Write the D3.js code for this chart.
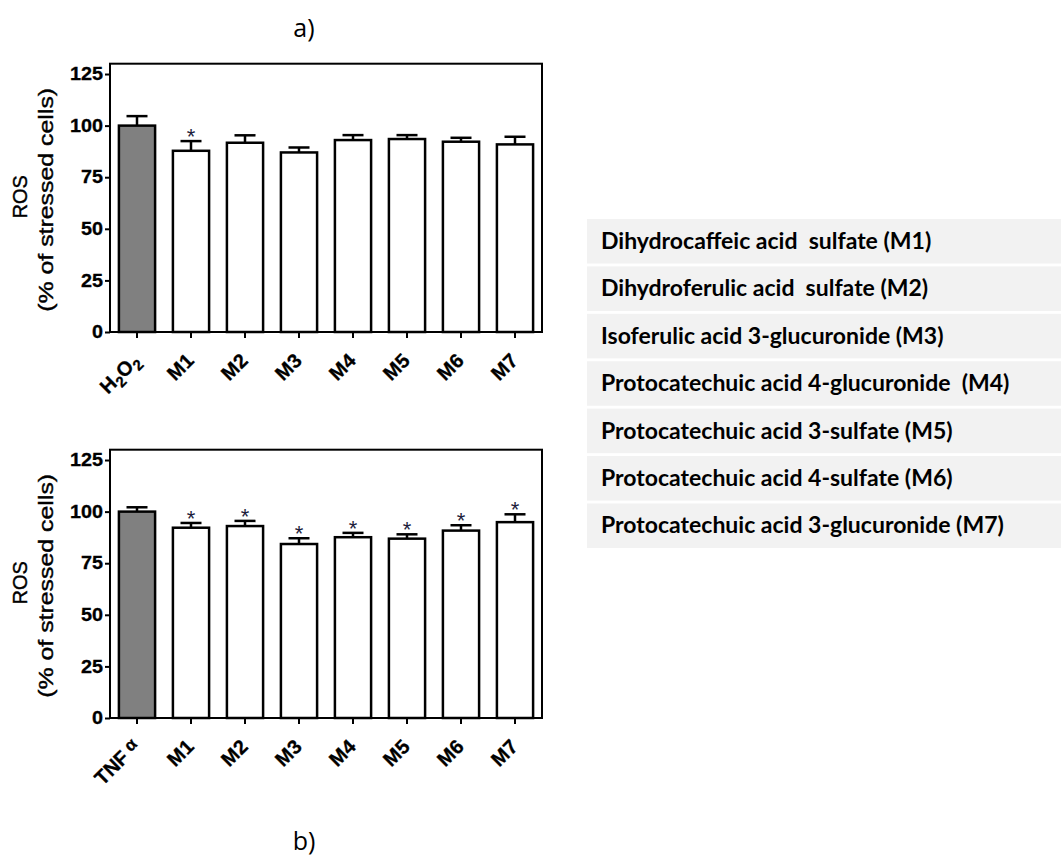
<!DOCTYPE html>
<html>
<head>
<meta charset="utf-8">
<script src="https://cdn.jsdelivr.net/npm/d3@7"></script>
<style>
body { margin: 0; background: #fff; }
svg { display: block; }
</style>
</head>
<body>
<div id="chart"></div>
<script>
// groups shared by both panels
var groups = ["M1", "M2", "M3", "M4", "M5", "M6", "M7"];

// panel a) H2O2 stress
var ros_h2o2 = [100, 87.8, 91.7, 87.0, 93.0, 93.5, 92.2, 90.9];
var sem_h2o2 = [4.6, 4.7, 3.6, 2.4, 2.4, 1.9, 1.9, 3.7];
var sig_h2o2 = [false, true, false, false, false, false, false, false];

// panel b) TNF alpha stress
var ros_tnf = [100, 92.2, 93.0, 84.3, 87.6, 86.9, 90.8, 94.9];
var sem_tnf = [2.1, 2.3, 2.5, 2.8, 2.1, 2.1, 2.6, 3.8];
var sig_tnf = [false, true, true, true, true, true, true, true];

var yTicks = [0, 25, 50, 75, 100, 125];

var metabolites = [
	"Dihydrocaffeic acid  sulfate (M1)",
	"Dihydroferulic acid  sulfate (M2)",
	"Isoferulic acid 3-glucuronide (M3)",
	"Protocatechuic acid 4-glucuronide  (M4)",
	"Protocatechuic acid 3-sulfate (M5)",
	"Protocatechuic acid 4-sulfate (M6)",
	"Protocatechuic acid 3-glucuronide (M7)"
];

var arial = "'Liberation Sans', Arial, sans-serif";

var svg = d3.select("#chart")
	.append("svg")
	.attr("width", 1061)
	.attr("height", 858);

// pieces of an x label: subscripts for H2O2, greek alpha for TNF
function labelParts(cat) {
	if (cat == "H2O2") {
		return [{t: "H"}, {t: "2", sub: true}, {t: "O"}, {t: "2", sub: true}];
	}
	if (cat == "TNF") {
		return [{t: "TNF"}, {t: " α", greek: true}];
	}
	return [{t: cat}];
}

function drawPanel(id, control, values, errors, sig, yTop, yBottom) {
	var cats = [control].concat(groups);
	var data = cats.map(function(c, i) {
		return {cat: c, value: values[i], err: errors[i], sig: sig[i], ctrl: i == 0};
	});

	var x = d3.scaleBand()
		.domain(cats)
		.range([110, 542])
		.paddingInner(0.33)
		.paddingOuter(0.165);
	var y = d3.scaleLinear()
		.domain([0, 130])
		.range([yBottom, yTop]);

	var g = svg.append("g").attr("id", id);

	// y axis
	var yAxis = g.append("g")
		.attr("transform", "translate(110,0)")
		.call(d3.axisLeft(y).tickValues(yTicks).tickSize(5).tickPadding(2));
	yAxis.select(".domain").remove();
	yAxis.selectAll("line").attr("stroke", "#000").attr("stroke-width", 2);
	yAxis.selectAll("text")
		.attr("font-family", arial)
		.attr("font-weight", "bold")
		.attr("font-size", 18)
		.attr("fill", "#000")
		.attr("stroke", "#000")
		.attr("stroke-width", 0.3)
		.attr("textLength", function(d) { return String(d).length * 11; })
		.attr("lengthAdjust", "spacingAndGlyphs");

	// x axis
	var xAxis = g.append("g")
		.attr("transform", "translate(0," + yBottom + ")")
		.call(d3.axisBottom(x).tickSize(6).tickSizeOuter(0));
	xAxis.select(".domain").remove();
	xAxis.selectAll("line").attr("stroke", "#000").attr("stroke-width", 2);
	xAxis.selectAll("text").remove();
	xAxis.selectAll(".tick").each(function(cat) {
		var t = d3.select(this).append("text")
			.attr("transform", "translate(4,30) rotate(-45)")
			.attr("text-anchor", "end")
			.attr("font-family", arial)
			.attr("font-weight", "bold")
			.attr("font-size", 20)
			.attr("fill", "#000")
			.attr("stroke", "#000")
			.attr("stroke-width", 0.3);
		labelParts(cat).forEach(function(p) {
			var s = t.append("tspan").text(p.t);
			if (p.sub) {
				s.attr("font-size", 15).attr("dy", 5);
			} else if (p.greek) {
				s.attr("font-size", 17).attr("dy", -4);
			} else {
				s.attr("dy", t.selectAll("tspan").size() > 1 ? -5 : 0);
			}
		});
	});

	// error bars (upper only)
	var eb = g.selectAll(".err").data(data).join("g").attr("class", "err");
	eb.append("line")
		.attr("x1", function(d) { return x(d.cat) + x.bandwidth() / 2; })
		.attr("x2", function(d) { return x(d.cat) + x.bandwidth() / 2; })
		.attr("y1", function(d) { return y(d.value); })
		.attr("y2", function(d) { return y(d.value + d.err); })
		.attr("stroke", "#000").attr("stroke-width", 2.5);
	eb.append("line")
		.attr("x1", function(d) { return x(d.cat) + x.bandwidth() / 2 - 10.5; })
		.attr("x2", function(d) { return x(d.cat) + x.bandwidth() / 2 + 10.5; })
		.attr("y1", function(d) { return y(d.value + d.err); })
		.attr("y2", function(d) { return y(d.value + d.err); })
		.attr("stroke", "#000").attr("stroke-width", 2.5);

	// bars
	g.selectAll(".bar").data(data).join("rect")
		.attr("class", "bar")
		.attr("x", function(d) { return x(d.cat); })
		.attr("y", function(d) { return y(d.value); })
		.attr("width", x.bandwidth())
		.attr("height", function(d) { return y(0) - y(d.value); })
		.attr("fill", function(d) { return d.ctrl ? "#808080" : "#fff"; })
		.attr("stroke", "#000")
		.attr("stroke-width", 2.5);

	// significance stars
	g.selectAll(".star").data(data.filter(function(d) { return d.sig; })).join("text")
		.attr("class", "star")
		.attr("x", function(d) { return x(d.cat) + x.bandwidth() / 2; })
		.attr("y", function(d) { return y(d.value + d.err) + 3; })
		.attr("text-anchor", "middle")
		.attr("font-family", arial)
		.attr("font-size", 22)
		.attr("fill", "#1e1e3c")
		.text("*");

	// box around plot
	g.append("rect")
		.attr("x", 110).attr("y", yTop)
		.attr("width", 432).attr("height", yBottom - yTop)
		.attr("fill", "none")
		.attr("stroke", "#000")
		.attr("stroke-width", 2);

	// y title
	var mid = (yTop + yBottom) / 2;
	g.append("text")
		.attr("transform", "translate(27," + (mid - 1) + ") rotate(-90)")
		.attr("text-anchor", "middle")
		.attr("font-family", arial)
		.attr("font-size", 20)
		.attr("fill", "#000")
		.attr("stroke", "#000")
		.attr("stroke-width", 0.4)
		.text("ROS");
	g.append("text")
		.attr("transform", "translate(53," + (mid + 2) + ") rotate(-90)")
		.attr("text-anchor", "middle")
		.attr("font-family", arial)
		.attr("font-size", 20)
		.attr("fill", "#000")
		.attr("stroke", "#000")
		.attr("stroke-width", 0.4)
		.attr("textLength", 224)
		.attr("lengthAdjust", "spacingAndGlyphs")
		.text("(% of stressed cells)");
}

drawPanel("panelA", "H2O2", ros_h2o2, sem_h2o2, sig_h2o2, 63.7, 332);
drawPanel("panelB", "TNF", ros_tnf, sem_tnf, sig_tnf, 449.7, 718);

// panel titles
svg.append("text")
	.attr("x", 304).attr("y", 37)
	.attr("text-anchor", "middle")
	.attr("font-family", "'Open Sans', sans-serif")
	.attr("font-size", 25)
	.attr("fill", "#000")
	.text("a)");
svg.append("text")
	.attr("x", 304).attr("y", 850)
	.attr("text-anchor", "middle")
	.attr("font-family", "'Open Sans', sans-serif")
	.attr("font-size", 25)
	.attr("fill", "#000")
	.text("b)");

// metabolite key on the right
var rows = d3.scaleBand()
	.domain(metabolites)
	.range([219, 548])
	.paddingInner(0.06);

var key = svg.append("g").attr("id", "key");
key.selectAll("rect").data(metabolites).join("rect")
	.attr("x", 587)
	.attr("y", function(d) { return rows(d); })
	.attr("width", 1061 - 587)
	.attr("height", rows.bandwidth())
	.attr("fill", "#f2f2f2");
key.selectAll("text").data(metabolites).join("text")
	.attr("x", 601)
	.attr("y", function(d) { return rows(d) + 30; })
	.attr("font-family", "Lato, 'Open Sans', sans-serif")
	.attr("font-weight", "bold")
	.attr("font-size", 23)
	.attr("fill", "#000")
	.style("white-space", "pre")
	.text(function(d) { return d; });
</script>
</body>
</html>
